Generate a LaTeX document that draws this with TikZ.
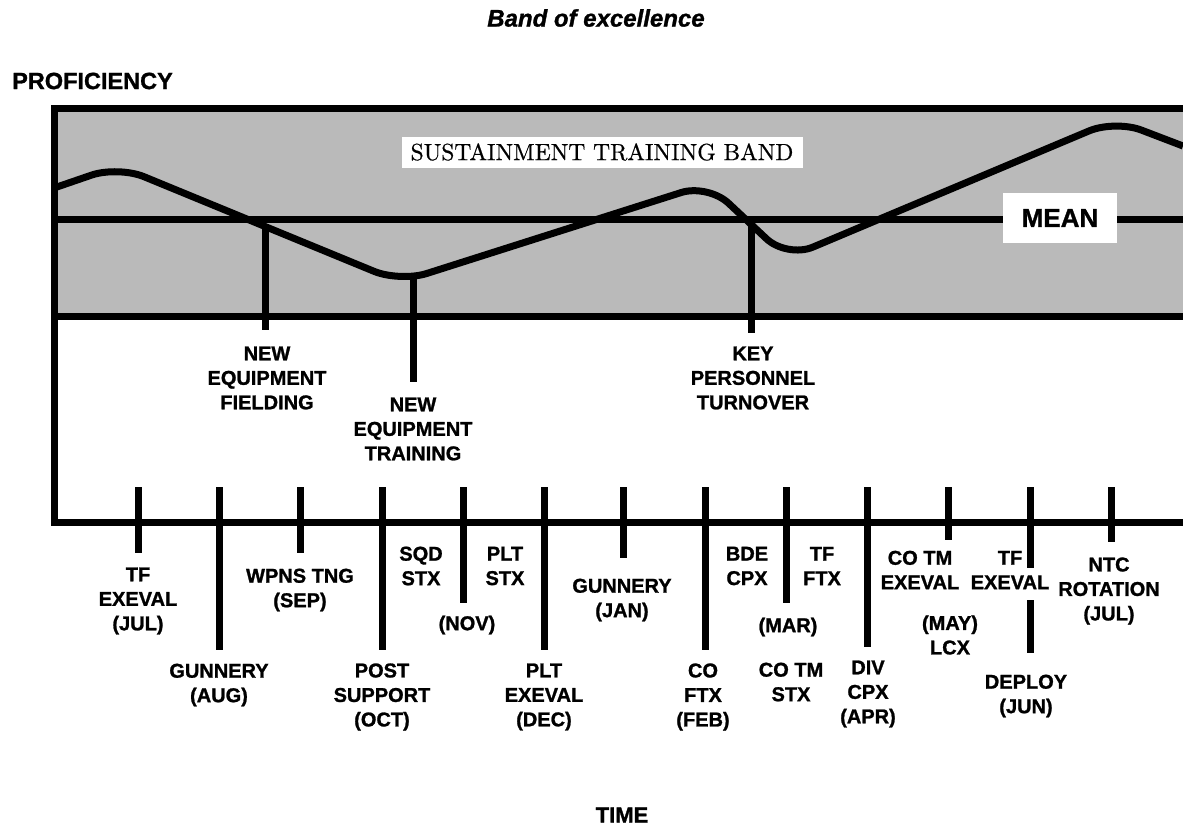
\documentclass[tikz,border=0pt]{standalone}
\usepackage{fontspec}
\newfontfamily\labf{Liberation Sans}[BoldFeatures={FakeBold=1.2}, BoldItalicFeatures={FakeBold=1.2}]
\newfontface\stbf{lmroman10-regular}[Extension=.otf, FakeBold=0.6]
\begin{document}
\begin{tikzpicture}[x=1pt,y=-1pt,
  lbl/.style={font=\labf\bfseries\fontsize{20}{24.5}\selectfont, align=center, inner sep=0pt},
  heavy/.style={line width=7pt},
  band/.style={fill=black!27},
  whitebox/.style={fill=white, inner sep=0pt}
]
\useasboundingbox (0,0) rectangle (1183,830);

% band fill
\fill[band] (54,108) rectangle (1183,316);
% mean line
\coordinate (ml) at (54,219);
\coordinate (mr) at (1183,219);
\draw[heavy] (ml) -- (mr);
% proficiency curve
\draw[heavy, rounded corners=28pt, line join=round]
  (54,188) -- (118,166) -- (400,282) -- (708,184) -- (787,258) -- (1115,120) -- (1183,146);

% drop lines from curve to event labels
\coordinate (d1) at (265,226);
\coordinate (d1b) at (265,330);
\coordinate (d2) at (413,278);
\coordinate (d2b) at (413,382);
\coordinate (d3) at (751,219);
\coordinate (d3b) at (751,333);
\draw[heavy] (d1) -- (d1b);
\draw[heavy] (d2) -- (d2b);
\draw[heavy] (d3) -- (d3b);

% frame
\coordinate (tl) at (54,108);
\coordinate (tr) at (1183,108);
\coordinate (bl) at (54,522);
\coordinate (br) at (1183,522);
\coordinate (bbl) at (54,316);
\coordinate (bbr) at (1183,316);
\draw[heavy, line join=miter] (tr) -- (tl) -- (bl) -- (br);
\draw[heavy] (bbl) -- (bbr);

% text boxes in band
\node[whitebox, minimum width=401pt, minimum height=31pt, font=\stbf\fontsize{23.5}{28}\selectfont] (stb) at (602,152) {SUSTAINMENT TRAINING BAND};
\node[whitebox, minimum width=114pt, minimum height=50pt, font=\labf\bfseries\fontsize{26}{30}\selectfont] (mean) at (1060,218) {MEAN};

% titles
\node[font=\labf\bfseries\itshape\fontsize{24}{28}\selectfont, inner sep=0pt] (title) at (596,18) {Band of excellence};
\node[font=\labf\bfseries\fontsize{23.5}{27}\selectfont, inner sep=0pt, anchor=west] (prof) at (12,81) {PROFICIENCY};
\node[font=\labf\bfseries\fontsize{22}{26}\selectfont, inner sep=0pt] (time) at (622,815) {TIME};

% upper event labels
\node[lbl] (nef) at (267,378) {NEW\\EQUIPMENT\\FIELDING};
\node[lbl] (net) at (413,429) {NEW\\EQUIPMENT\\TRAINING};
\node[lbl] (kpt) at (753,378) {KEY\\PERSONNEL\\TURNOVER};

% timeline ticks
\foreach \x/\b in {138/553, 219/650, 300/553, 382/650, 463/603, 544/650, 623/558, 705/650, 786/603, 867/647, 948/540, 1030/568, 1111/542}{
  \draw[heavy] (\x,487) -- (\x,\b);
}
\draw[heavy] (1030,600) -- (1030,653);

% timeline labels
\node[lbl] (tfjul) at (138,601) {TF\\EXEVAL\\(JUL)};
\node[lbl] (gaug) at (219,685) {GUNNERY\\(AUG)};
\node[lbl] (wpns) at (300,590) {WPNS TNG\\(SEP)};
\node[lbl] (post) at (382,697) {POST\\SUPPORT\\(OCT)};
\node[lbl] (sqd) at (421,566) {SQD\\STX};
\node[lbl] (pltstx) at (505,566) {PLT\\STX};
\node[lbl] (nov) at (467,625) {(NOV)};
\node[lbl] (plte) at (544,697) {PLT\\EXEVAL\\(DEC)};
\node[lbl] (gjan) at (622,600) {GUNNERY\\(JAN)};
\node[lbl] (cofeb) at (703,697) {CO\\FTX\\(FEB)};
\node[lbl] (bde) at (747,566) {BDE\\CPX};
\node[lbl] (tfftx) at (822,566) {TF\\FTX};
\node[lbl] (mar) at (788,627) {(MAR)};
\node[lbl] (cotmstx) at (791,682) {CO TM\\STX};
\node[lbl] (div) at (868,694) {DIV\\CPX\\(APR)};
\node[lbl] (cotmex) at (920,570) {CO TM\\EXEVAL};
\node[lbl] (may) at (950,635) {(MAY)\\LCX};
\node[lbl] (tfex) at (1010,570) {TF\\EXEVAL};
\node[lbl] (deploy) at (1026,696) {DEPLOY\\(JUN)};
\node[lbl] (ntc) at (1109,591) {NTC\\ROTATION\\(JUL)};
\end{tikzpicture}
\end{document}
